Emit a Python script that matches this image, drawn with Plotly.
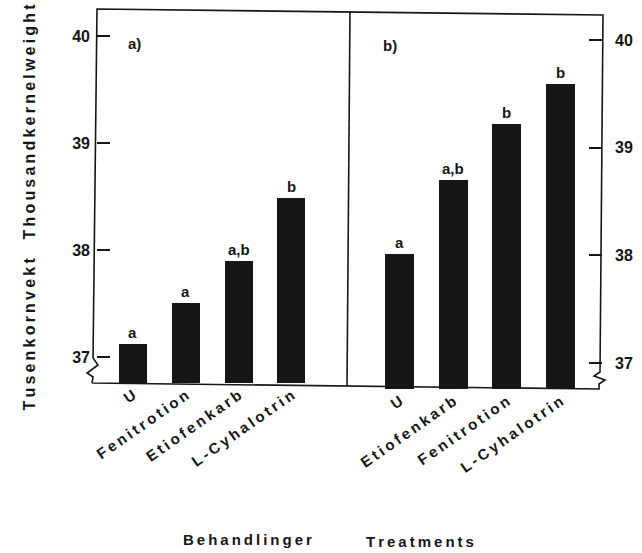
import plotly.graph_objects as go
from plotly.subplots import make_subplots

# Treatments and thousand-kernel weights (g) for the two trials
treat_a = ["U", "Fenitrotion", "Etiofenkarb", "L-Cyhalotrin"]
tkw_a = [37.12, 37.50, 37.90, 38.49]
sig_a = ["a", "a", "a,b", "b"]

treat_b = ["U", "Etiofenkarb", "Fenitrotion", "L-Cyhalotrin"]
tkw_b = [38.01, 38.70, 39.22, 39.59]
sig_b = ["a", "a,b", "b", "b"]

y_ticks = [37, 38, 39, 40]

W, H = 642, 553
L, R, T, B = 97, 36, 9, 164
PW, PH = W - L - R, H - T - B
FONT = "Liberation Sans, Arial, sans-serif"
INK = "#161616"


def px(x):
    return (x - L) / PW


def py(y):
    return (H - B - y) / PH


def spaced(s):
    return "\u2009".join(s)


fig = make_subplots(rows=1, cols=2, horizontal_spacing=0)

fig.add_trace(go.Bar(x=treat_a, y=tkw_a, width=0.53,
                     marker=dict(color=INK, line=dict(width=0)), showlegend=False),
              row=1, col=1)
fig.add_trace(go.Bar(x=treat_b, y=tkw_b, width=0.55,
                     marker=dict(color=INK, line=dict(width=0)), showlegend=False),
              row=1, col=2)

split = px(352)
tickfont = dict(family=FONT, size=15, color=INK, weight="bold")
fig.update_xaxes(showline=False, showgrid=False, zeroline=False, ticks="", tickangle=-35,
                 tickfont=tickfont, type="category", tickmode="array")
fig.update_layout(
    xaxis=dict(domain=[0, split], range=[-0.68, 4.11],
               tickvals=treat_a, ticktext=[spaced(t) for t in treat_a]),
    xaxis2=dict(domain=[split, 1], range=[-0.93, 3.78],
                tickvals=treat_b, ticktext=[spaced(t) for t in treat_b]),
)
yfont = dict(family=FONT, size=16, color=INK, weight="bold")
common_y = dict(tickvals=y_ticks, ticks="inside", ticklen=13, tickwidth=1.6,
                tickcolor=INK, showgrid=False, zeroline=False, showline=False,
                tickfont=yfont)
fig.update_layout(
    yaxis=dict(domain=[py(383), 1], range=[36.757, 40.252], ticklabelstandoff=6, **common_y),
    yaxis2=dict(domain=[0, py(14)], range=[36.758, 40.243], side="right",
                ticklabelstandoff=12, **common_y),
)

# significance letters above bars
for xs, ys, ls, xr, yr in [(treat_a, tkw_a, sig_a, "x", "y"),
                           (treat_b, tkw_b, sig_b, "x2", "y2")]:
    for xv, yv, lv in zip(xs, ys, ls):
        fig.add_annotation(x=xv, y=yv, xref=xr, yref=yr, text=lv, showarrow=False,
                           xanchor="center", yanchor="bottom", yshift=1,
                           font=dict(family=FONT, size=15, color=INK, weight="bold"))


# frame with broken value axes
def path(points, close=False):
    d = "M " + " L ".join(f"{px(x):.5f},{py(y):.5f}" for x, y in points)
    return d + (" Z" if close else "")


line = dict(color=INK, width=1.6)
fig.add_shape(type="path", xref="paper", yref="paper", line=line,
              path=path([(92, 383), (93, 377), (87, 373), (98, 365), (93, 358), (97, 9),
                         (607, 15), (604, 372), (598, 376), (609, 380), (603, 384),
                         (603, 389), (92, 383)]))
fig.add_shape(type="line", xref="paper", yref="paper", line=line,
              x0=px(352), x1=px(349), y0=py(12), y1=py(386))

panel_font = dict(family=FONT, size=15, color=INK, weight="bold")
fig.add_annotation(x=px(126), y=py(44), xref="paper", yref="paper", text="a)",
                   showarrow=False, font=panel_font, xanchor="left", yanchor="middle")
fig.add_annotation(x=px(383), y=py(46), xref="paper", yref="paper", text="b)",
                   showarrow=False, font=panel_font, xanchor="left", yanchor="middle")

ytitle_font = dict(family=FONT, size=16, color=INK, weight="bold")
xtitle_font = dict(family=FONT, size=15, color=INK, weight="bold")
fig.add_annotation(x=px(28), y=py(334), xref="paper", yref="paper",
                   text=spaced("Tusenkornvekt"), textangle=-90, showarrow=False,
                   font=ytitle_font, xanchor="center", yanchor="middle")
fig.add_annotation(x=px(28), y=py(122), xref="paper", yref="paper",
                   text=spaced("Thousandkernelweight"), textangle=-90, showarrow=False,
                   font=ytitle_font, xanchor="center", yanchor="middle")
fig.add_annotation(x=px(249), y=py(539), xref="paper", yref="paper",
                   text=spaced("Behandlinger"), showarrow=False, font=xtitle_font,
                   xanchor="center", yanchor="middle")
fig.add_annotation(x=px(423), y=py(541), xref="paper", yref="paper",
                   text=spaced("Treatments"), showarrow=False, font=xtitle_font,
                   xanchor="center", yanchor="middle")

fig.update_layout(
    width=W, height=H,
    margin=dict(l=L, r=R, t=T, b=B),
    paper_bgcolor="white", plot_bgcolor="white",
    bargap=0, showlegend=False,
)

fig.write_html("out.html")
